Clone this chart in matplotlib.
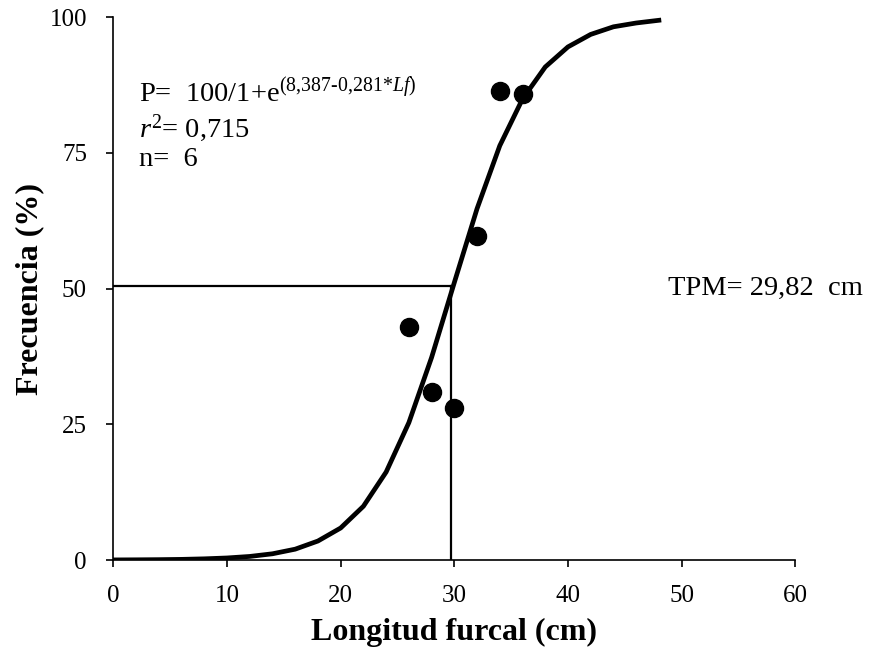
import matplotlib
matplotlib.use('Agg')
import matplotlib.pyplot as plt

plt.rcParams['font.family'] = ['Liberation Serif', 'DejaVu Serif']
plt.rcParams['mathtext.fontset'] = 'custom'
plt.rcParams['mathtext.rm'] = 'Liberation Serif'
plt.rcParams['mathtext.it'] = 'Liberation Serif:italic'

# fitted logistic curve, every 2 cm
curve_x = [0, 2, 4, 6, 8, 10, 12, 14, 16, 18, 20, 22, 24,
           26, 28, 30, 32, 34, 36, 38, 40, 42, 44, 46, 48]
curve_y = [0.02, 0.04, 0.07, 0.12, 0.22, 0.38, 0.66, 1.15, 2.0, 3.5, 5.9, 9.9, 16.2,
           25.3, 37.3, 51.1, 64.7, 76.3, 84.9, 90.8, 94.5, 96.8, 98.2, 98.9, 99.4]

# observed points
obs_x = [26, 28, 30, 32, 34, 36]
obs_y = [43, 31, 28, 59.7, 86.4, 85.8]

tpm_x = 29.7
tpm_y = 50.4

fig, ax = plt.subplots(figsize=(8.72, 6.55), dpi=100)
fig.subplots_adjust(left=0.13, right=0.912, top=0.974, bottom=0.145)

ax.plot([0, tpm_x], [tpm_y, tpm_y], color='black', lw=1.6)
ax.plot([tpm_x, tpm_x], [0, tpm_y], color='black', lw=1.6)
ax.plot(curve_x, curve_y, color='black', lw=3.4, solid_joinstyle='miter')
ax.plot(obs_x, obs_y, 'o', color='black', ms=13, zorder=3)

ax.set_xlim(0, 60)
ax.set_ylim(0, 100)
ax.set_xticks([0, 10, 20, 30, 40, 50, 60])
ax.set_yticks([0, 25, 50, 75, 100])
ax.spines['top'].set_visible(False)
ax.spines['right'].set_visible(False)
for s in ('left', 'bottom'):
    ax.spines[s].set_linewidth(1.2)
    ax.spines[s].set_clip_on(False)
ax.tick_params(direction='out', length=5, width=1.2, labelsize=18)
ax.tick_params(axis='x', pad=13)
ax.tick_params(axis='y', pad=14)

ax.set_xlabel('Longitud furcal (cm)', fontsize=23, fontweight='bold', labelpad=8)
ax.set_ylabel('Frecuencia (%)', fontsize=23, fontweight='bold', labelpad=4)

ax.text(2.3, 86.0, r'P=  100/1+e$^{\text{(8,387-0,281*}\mathit{Lf}\text{)}}$',
        fontsize=20.5, va='center')
ax.text(2.3, 79.6, r'$\mathit{r}^{2}$= 0,715', fontsize=20.5, va='center')
ax.text(2.3, 73.7, 'n=  6', fontsize=20.5, va='center')
ax.text(48.8, 50.1, 'TPM= 29,82  cm', fontsize=20.5, va='center')

fig.savefig('out.png', dpi=100)
